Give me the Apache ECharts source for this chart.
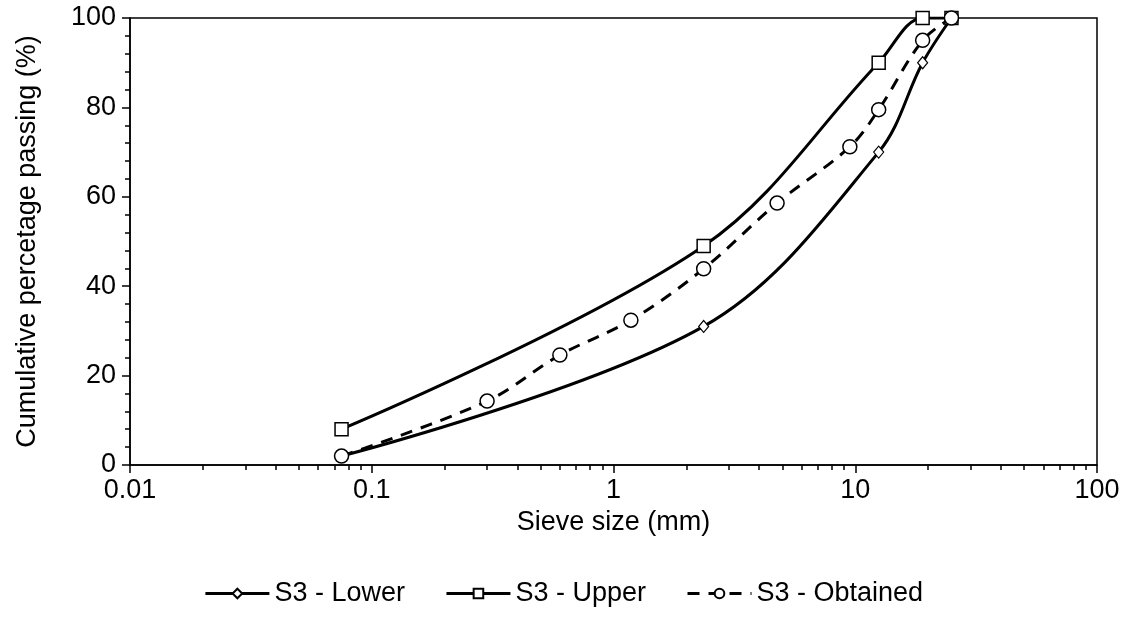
<!DOCTYPE html>
<html>
<head>
<meta charset="utf-8">
<script src="https://cdn.jsdelivr.net/npm/echarts@6/dist/echarts.min.js"></script>
<style>html,body{margin:0;padding:0;background:#fff;}#c{width:1127px;height:636px;}</style>
</head>
<body>
<div id="c"></div>
<script>
const lowerSizes = [0.075, 2.36, 12.5, 19, 25];
const lowerValues = [2, 31, 70, 90, 100];
const upperSizes = [0.075, 2.36, 12.5, 19, 25];
const upperValues = [8, 49, 90, 100, 100];
const obtainedSizes = [0.075, 0.3, 0.6, 1.18, 2.36, 4.75, 9.5, 12.5, 19, 25];
const obtainedValues = [2, 14.3, 24.6, 32.4, 43.9, 58.6, 71.2, 79.5, 95, 100];
const seriesNames = ['S3 - Lower', 'S3 - Upper', 'S3 - Obtained'];
const xTickLabels = ['0.01', '0.1', '1', '10', '100'];

const font = 'Liberation Sans, Arial, sans-serif';
const fs = 27;
const pair = (xs, ys) => xs.map((x, i) => [x, ys[i]]);

const chart = echarts.init(document.getElementById('c'));
chart.setOption({
  animation: false,
  backgroundColor: '#fff',
  grid: { left: 130, right: 30, top: 18, bottom: 171, show: true, borderColor: '#000', borderWidth: 1.5, backgroundColor: 'transparent' },
  xAxis: {
    type: 'log', logBase: 10, min: 0.01, max: 100,
    name: 'Sieve size (mm)', nameLocation: 'middle', nameGap: 39,
    nameTextStyle: { fontFamily: font, fontSize: fs, color: '#000' },
    axisLine: { show: true, lineStyle: { color: '#000', width: 1.5 } },
    axisTick: { show: true, length: 8, lineStyle: { color: '#000', width: 1.5 } },
    minorTick: { show: true, splitNumber: 9, length: 5, lineStyle: { color: '#000', width: 1.5 } },
    splitLine: { show: false },
    axisLabel: { fontFamily: font, fontSize: fs, color: '#000', margin: 12,
      formatter: v => { const s = xTickLabels.find(t => Math.abs(parseFloat(t) - v) / v < 1e-6); return s || ''; } }
  },
  yAxis: {
    type: 'value', min: 0, max: 100, interval: 20,
    name: 'Cumulative percetage passing (%)', nameLocation: 'middle', nameGap: 89,
    nameTextStyle: { fontFamily: font, fontSize: fs, color: '#000' },
    axisLine: { show: true, lineStyle: { color: '#000', width: 1.5 } },
    axisTick: { show: true, length: 8, lineStyle: { color: '#000', width: 1.5 } },
    minorTick: { show: true, splitNumber: 5, length: 5, lineStyle: { color: '#000', width: 1.5 } },
    splitLine: { show: false },
    axisLabel: { fontFamily: font, fontSize: fs, color: '#000', margin: 14 }
  },
  legend: {
    bottom: 24, left: 'center', itemGap: 40, itemWidth: 64, itemHeight: 12,
    textStyle: { fontFamily: font, fontSize: fs, color: '#000' },
    lineStyle: { width: 3 },
    data: seriesNames
  },
  series: [
    { name: seriesNames[0], type: 'line', data: pair(lowerSizes, lowerValues), smooth: 0.35,
      symbol: 'diamond', symbolSize: [10, 12], lineStyle: { color: '#000', width: 3 },
      itemStyle: { color: '#fff', borderColor: '#000', borderWidth: 1.2 } },
    { name: seriesNames[1], type: 'line', data: pair(upperSizes, upperValues), smooth: 0.35,
      symbol: 'rect', symbolSize: 13, lineStyle: { color: '#000', width: 3 },
      itemStyle: { color: '#fff', borderColor: '#000', borderWidth: 1.5 } },
    { name: seriesNames[2], type: 'line', data: pair(obtainedSizes, obtainedValues), smooth: 0.35,
      symbol: 'circle', symbolSize: 14, lineStyle: { color: '#000', width: 3, type: [12, 9] },
      itemStyle: { color: '#fff', borderColor: '#000', borderWidth: 1.5 } }
  ]
});
</script>
</body>
</html>
